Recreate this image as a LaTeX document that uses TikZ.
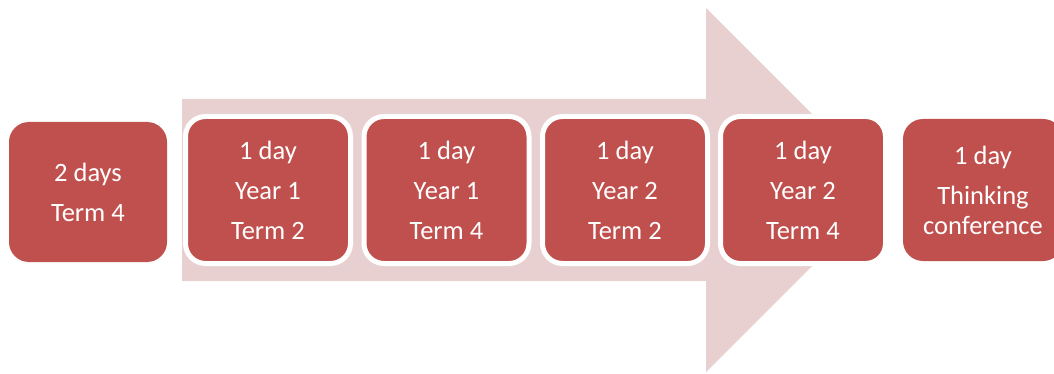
\documentclass[tikz,border=0pt]{standalone}
\usepackage{fontspec}
\setmainfont{Carlito}
\definecolor{boxred}{HTML}{C0504D}
\definecolor{arrowpink}{HTML}{E8D0D1}
\begin{document}
\begin{tikzpicture}[x=1pt,y=-1pt,
  stagebox/.style={fill=boxred, rounded corners=20pt, text=white, align=center,
    font=\fontsize{26.5}{30}\selectfont, inner sep=0pt},
  framedbox/.style={stagebox, draw=white, line width=5pt, minimum width=165pt, minimum height=147pt},
  plainbox/.style={stagebox, minimum width=160pt, minimum height=142pt}]
\clip (0,0) rectangle (1054,374);
\fill[white] (0,0) rectangle (1054,374);
% big background arrow
\fill[arrowpink] (182,99) -- (706,99) -- (706,8) -- (888,190) -- (706,372) -- (706,281) -- (182,281) -- cycle;
% boxes
\node[plainbox, minimum width=158pt, minimum height=140pt] (b1) at (88,192) {2 days\\[10pt]Term 4};
\node[framedbox] (b2) at (268,190) {1 day\\[10pt]Year 1\\[10pt]Term 2};
\node[framedbox] (b3) at (446.5,190) {1 day\\[10pt]Year 1\\[10pt]Term 4};
\node[framedbox] (b4) at (625,190) {1 day\\[10pt]Year 2\\[10pt]Term 2};
\node[framedbox] (b5) at (803,190) {1 day\\[10pt]Year 2\\[10pt]Term 4};
\node[plainbox] (b6) at (983,190) {1 day\\[10pt]Thinking\\conference};
\end{tikzpicture}
\end{document}
